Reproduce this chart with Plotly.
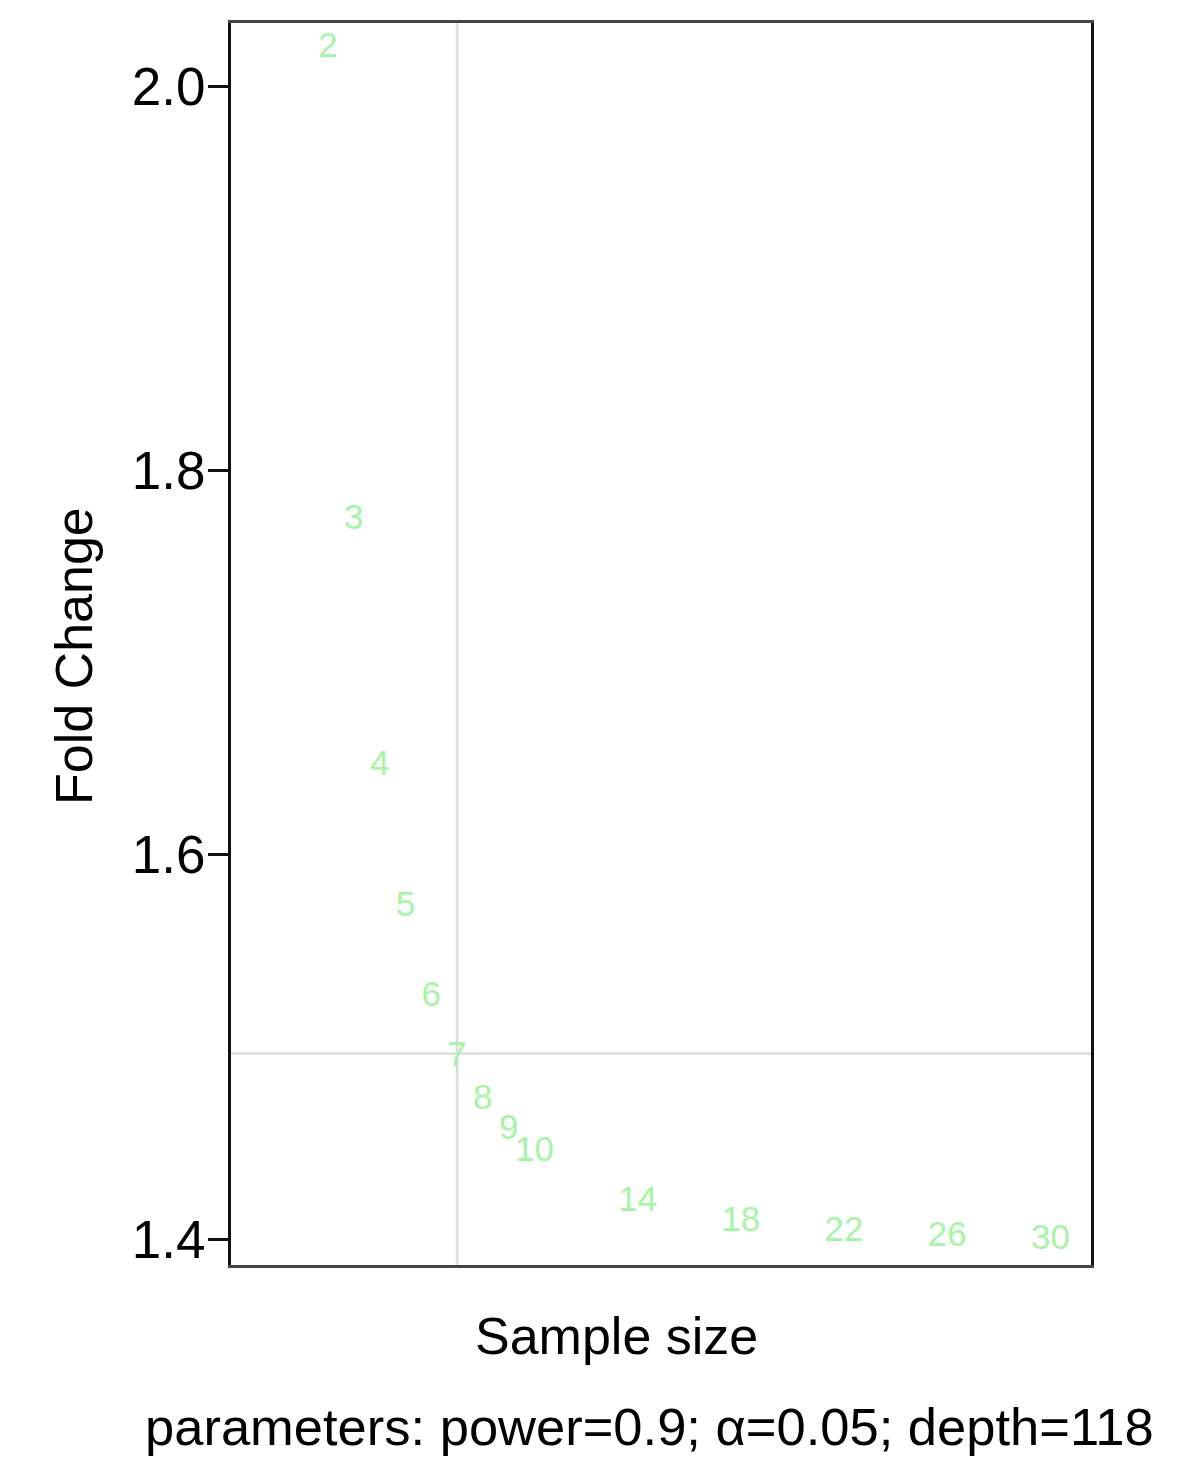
import plotly.graph_objects as go

sample_size = [2, 3, 4, 5, 6, 7, 8, 9, 10, 14, 18, 22, 26, 30]
fold_change = [2.0198, 1.7742, 1.6461, 1.5728, 1.5259, 1.4947, 1.4723, 1.4567,
               1.4453, 1.4193, 1.4089, 1.4037, 1.4011, 1.3995]
labels = [str(n) for n in sample_size]
y_ticks = [1.4, 1.6, 1.8, 2.0]
y_tick_text = ["1.4", "1.6", "1.8", "2.0"]
chosen_n = 7
chosen_fc = 1.4965
caption = "parameters: power=0.9; \u03b1=0.05; depth=118"

OFF = 7  # page body margin
W, H = 1200, 1484
L, R, T, B = 230 - OFF, 1090 - OFF, 22 - OFF, 1264 - OFF
def px(x):
    return (x - OFF - L) / (R - L)
def py(y):
    return (B - (y - OFF)) / (B - T)

fig = go.Figure()
fig.add_trace(go.Scatter(
    x=sample_size, y=fold_change, text=labels, mode="text",
    textposition="middle center",
    textfont=dict(family="Liberation Sans, Arial", size=35, color="#a6f5a6"),
    showlegend=False, hoverinfo="skip", cliponaxis=False,
))

fig.add_shape(type="line", xref="x", yref="paper", x0=chosen_n, x1=chosen_n, y0=0, y1=1,
              line=dict(color="#dcdcdc", width=2.5), layer="below")
fig.add_shape(type="line", xref="paper", yref="y", x0=0, x1=1, y0=chosen_fc, y1=chosen_fc,
              line=dict(color="#dcdcdc", width=2.5), layer="below")

font = "Liberation Sans, Arial"
fig.update_layout(
    width=W, height=H,
    margin=dict(l=L, r=W - R, t=T, b=H - B),
    plot_bgcolor="white", paper_bgcolor="white",
    xaxis=dict(range=[-1.76, 31.57], showgrid=False, zeroline=False,
               showticklabels=False, ticks="", showline=True, mirror=True,
               linecolor="#444444", linewidth=3),
    yaxis=dict(range=[1.3865, 2.0328], showgrid=False, zeroline=False,
               tickvals=y_ticks, ticktext=y_tick_text, ticks="outside",
               ticklen=20, tickwidth=3, tickcolor="#111111",
               ticklabelstandoff=-8,
               tickfont=dict(family=font, size=53, color="black"),
               showline=True, mirror=True, linecolor="#111111", linewidth=3),
    annotations=[
        dict(text="Sample size", xref="paper", yref="paper", x=px(615), y=py(1335),
             xanchor="center", yanchor="middle", showarrow=False,
             font=dict(family=font, size=52, color="black")),
        dict(text="Fold Change", xref="paper", yref="paper", x=px(73), y=py(655),
             xanchor="center", yanchor="middle", showarrow=False, textangle=-90,
             font=dict(family=font, size=52, color="black")),
        dict(text=caption, xref="paper", yref="paper", x=px(648), y=py(1425),
             xanchor="center", yanchor="middle", showarrow=False,
             font=dict(family=font, size=52.5, color="black")),
    ],
)

fig.write_html("out.html")
